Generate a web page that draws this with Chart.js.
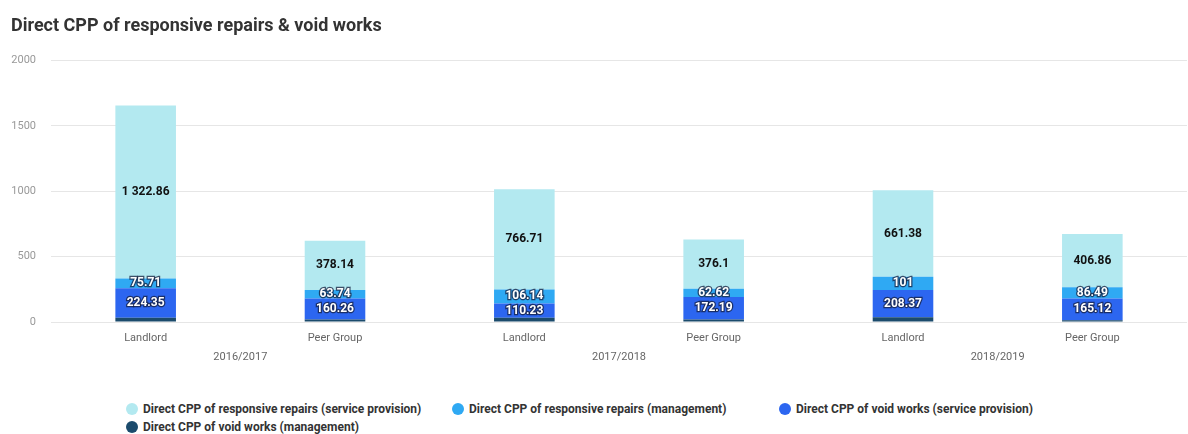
<!DOCTYPE html>
<html><head><meta charset="utf-8">
<script src="https://cdn.jsdelivr.net/npm/chart.js@4/dist/chart.umd.min.js"></script>
<style>
html,body{margin:0;padding:0;background:#fff;}
#wrap{position:relative;width:1188px;height:434px;overflow:hidden;}
#cbox{position:absolute;left:0;top:0;width:1188px;height:385px;}
#legend{position:absolute;left:126px;top:400px;width:990px;display:grid;grid-template-columns:326px 327px 330px;font:bold 12px Roboto, sans-serif;color:#333;}
.item{display:flex;align-items:center;height:18px;white-space:nowrap;}
.dot{width:12px;height:12px;border-radius:50%;margin-right:5px;flex:none;}
</style></head>
<body>
<div id="wrap">
<div id="cbox"><canvas id="c"></canvas></div>
<div id="legend"></div>
</div>
<script>
const categories = ['Landlord','Peer Group','Landlord','Peer Group','Landlord','Peer Group'];
const years = ['2016/2017','2017/2018','2018/2019'];
const yTicks = [0,500,1000,1500,2000];
const seriesNames = [
  'Direct CPP of responsive repairs (service provision)',
  'Direct CPP of responsive repairs (management)',
  'Direct CPP of void works (service provision)',
  'Direct CPP of void works (management)'
];
const repairsService = [1322.86, 378.14, 766.71, 376.1, 661.38, 406.86];
const repairsMgmt = [75.71, 63.74, 106.14, 62.62, 101, 86.49];
const voidService = [224.35, 160.26, 110.23, 172.19, 208.37, 165.12];
const voidMgmt = [33, 20, 32, 20, 37, 14];
const colors = ['#b3e9f0', '#2fa9f3', '#2c66f0', '#1b4b6c'];

function fmt(v){
  const parts = String(v).split('.');
  parts[0] = parts[0].replace(/\B(?=(\d{3})+(?!\d))/g, ' ');
  return parts.join('.');
}

const leg = document.getElementById('legend');
seriesNames.forEach((n,i)=>{
  const d = document.createElement('div'); d.className='item';
  d.innerHTML = '<span class="dot" style="background:'+colors[i]+'"></span><span>'+n+'</span>';
  leg.appendChild(d);
});

const labelPlugin = {
  id:'segLabels',
  afterDatasetsDraw(chart){
    const ctx = chart.ctx;
    ctx.save();
    ctx.font = 'bold 12px Roboto, sans-serif';
    ctx.textAlign = 'center';
    ctx.textBaseline = 'middle';
    chart.data.datasets.forEach((ds, di)=>{
      if (!ds.showLabel) return;
      const meta = chart.getDatasetMeta(di);
      meta.data.forEach((bar, i)=>{
        const v = ds.data[i];
        const yc = (bar.y + bar.base)/2;
        const t = fmt(v);
        if (ds.dark) {
          ctx.lineWidth = 2.5;
          ctx.strokeStyle = 'rgba(20,30,60,0.75)';
          ctx.strokeText(t, bar.x, yc);
          ctx.fillStyle = '#fff';
        } else {
          ctx.fillStyle = '#111';
        }
        ctx.fillText(t, bar.x, yc);
      });
    });
    ctx.restore();
  }
};

new Chart(document.getElementById('c'), {
  type:'bar',
  data:{
    labels: categories,
    datasets:[
      {label: seriesNames[3], data: voidMgmt, backgroundColor: colors[3]},
      {label: seriesNames[2], data: voidService, backgroundColor: colors[2], showLabel:true, dark:true},
      {label: seriesNames[1], data: repairsMgmt, backgroundColor: colors[1], showLabel:true, dark:true},
      {label: seriesNames[0], data: repairsService, backgroundColor: colors[0], showLabel:true}
    ]
  },
  options:{
    responsive:true, maintainAspectRatio:false, animation:false,
    layout:{padding:{left:11,right:1,top:0,bottom:18}},
    datasets:{bar:{barPercentage:0.64, categoryPercentage:0.5}},
    plugins:{
      legend:{display:false},
      tooltip:{enabled:false},
      title:{display:true, text:'Direct CPP of responsive repairs & void works', align:'start',
        color:'#333', font:{family:'Roboto', size:18, weight:'bold'}, padding:{top:16,bottom:23}}
    },
    scales:{
      x:{stacked:true, grid:{display:false, drawTicks:false}, border:{display:false},
        ticks:{color:'#666', font:{family:'Roboto', size:11}, padding:10},
        afterFit(ax){ ax.height = 29; }},
      x2:{type:'category', labels: years, position:'bottom', grid:{display:false, drawTicks:false}, border:{display:false},
        ticks:{color:'#666', font:{family:'Roboto', size:11}, padding:0},
        afterFit(ax){ ax.height = 16; }},
      y:{stacked:true, min:0, max:2000, afterBuildTicks(ax){ ax.ticks = yTicks.map(v=>({value:v})); },
        grid:{color:'#e6e6e6', drawTicks:false}, border:{display:false},
        ticks:{color:'#999', font:{family:'Roboto', size:11}, padding:15, callback:(v)=>String(v)},
        afterFit(ax){ ax.width = 40; }}
    }
  },
  plugins:[labelPlugin]
});
</script>
</body></html>
